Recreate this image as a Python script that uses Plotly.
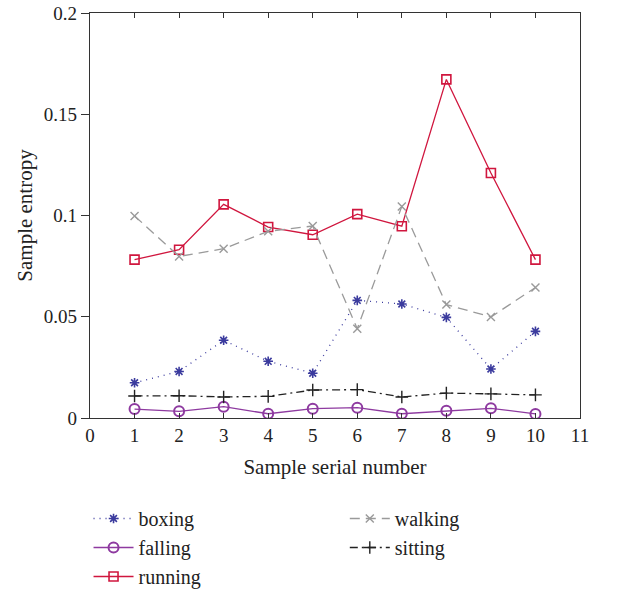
import plotly.graph_objects as go

samples = [1, 2, 3, 4, 5, 6, 7, 8, 9, 10]
boxing = [0.0174, 0.0230, 0.0384, 0.0280, 0.0221, 0.0581, 0.0563, 0.0497, 0.0242, 0.0428]
falling = [0.0044, 0.0033, 0.0056, 0.0021, 0.0046, 0.0051, 0.0021, 0.0036, 0.0048, 0.0020]
running = [0.0782, 0.0831, 0.1055, 0.0943, 0.0905, 0.1007, 0.0947, 0.1672, 0.1210, 0.0782]
walking = [0.0998, 0.0798, 0.0836, 0.0922, 0.0948, 0.0441, 0.1045, 0.0560, 0.0499, 0.0644]
sitting = [0.0109, 0.0110, 0.0104, 0.0107, 0.0138, 0.0140, 0.0104, 0.0123, 0.0119, 0.0114]

x_ticks = list(range(0, 12))
y_ticks = [0, 0.05, 0.1, 0.15, 0.2]
y_tick_text = ["0", "0.05", "0.1", "0.15", "0.2"]

FONT = "Liberation Serif"

fig = go.Figure()

series = [
    ("boxing", boxing, "#3b3b9e", "1px,5px", "asterisk-open", 8, 1.6, "legend"),
    ("falling", falling, "#8e3aa0", "solid", "circle-open", 10, 2.0, "legend"),
    ("running", running, "#d0163e", "solid", "square-open", 9, 1.6, "legend"),
    ("walking", walking, "#9a9a9a", "10px,6px", "x-thin-open", 8, 1.4, "legend2"),
    ("sitting", sitting, "#222222", "8px,4px,2px,4px", "cross-thin-open", 9, 1.4, "legend2"),
]

for name, vals, color, dash, sym, size, mlw, leg in series:
    fig.add_trace(go.Scatter(
        x=samples, y=vals, name=name, mode="lines+markers",
        line=dict(color=color, width=1.3, dash=dash),
        marker=dict(symbol=sym, size=size, color=color,
                    line=dict(color=color, width=mlw)),
        legend=leg,
    ))

axis_color = "#333333"

fig.update_layout(
    width=629, height=591,
    margin=dict(l=90, r=49, t=13, b=173, autoexpand=False),
    paper_bgcolor="white", plot_bgcolor="white",
    font=dict(family=FONT, size=19, color="#222222"),
    xaxis=dict(
        range=[0, 11], tickvals=x_ticks, ticks="inside", ticklen=5,
        showline=True, linecolor=axis_color, linewidth=1.2, mirror="ticks",
        tickcolor=axis_color, showgrid=False, zeroline=False, automargin=False,
        title=dict(text="Sample serial number", font=dict(size=21), standoff=14),
    ),
    yaxis=dict(
        range=[0, 0.2], tickvals=y_ticks, ticktext=y_tick_text,
        ticks="outside", ticklen=8,
        showline=True, linecolor=axis_color, linewidth=1.2, mirror=True,
        tickcolor=axis_color, showgrid=False, zeroline=False, automargin=False,
        title=dict(text="Sample entropy", font=dict(size=21), standoff=5),
    ),
    yaxis2=dict(
        overlaying="y", side="right", matches="y", range=[0, 0.2],
        tickvals=y_ticks, ticks="inside", ticklen=5, showticklabels=False,
        tickcolor=axis_color, showgrid=False, zeroline=False, showline=False,
        automargin=False,
    ),
    legend=dict(
        x=-0.003, y=-0.2, xanchor="left", yanchor="top",
        orientation="v", font=dict(size=20), tracegroupgap=0, itemwidth=40,
        bgcolor="rgba(0,0,0,0)",
    ),
    legend2=dict(
        x=0.52, y=-0.2, xanchor="left", yanchor="top",
        orientation="v", font=dict(size=20), tracegroupgap=0, itemwidth=40,
        bgcolor="rgba(0,0,0,0)",
    ),
)

fig.write_html(
    "out.html",
    config={"displayModeBar": False},
    post_script="document.body.style.margin='0px';",
)
